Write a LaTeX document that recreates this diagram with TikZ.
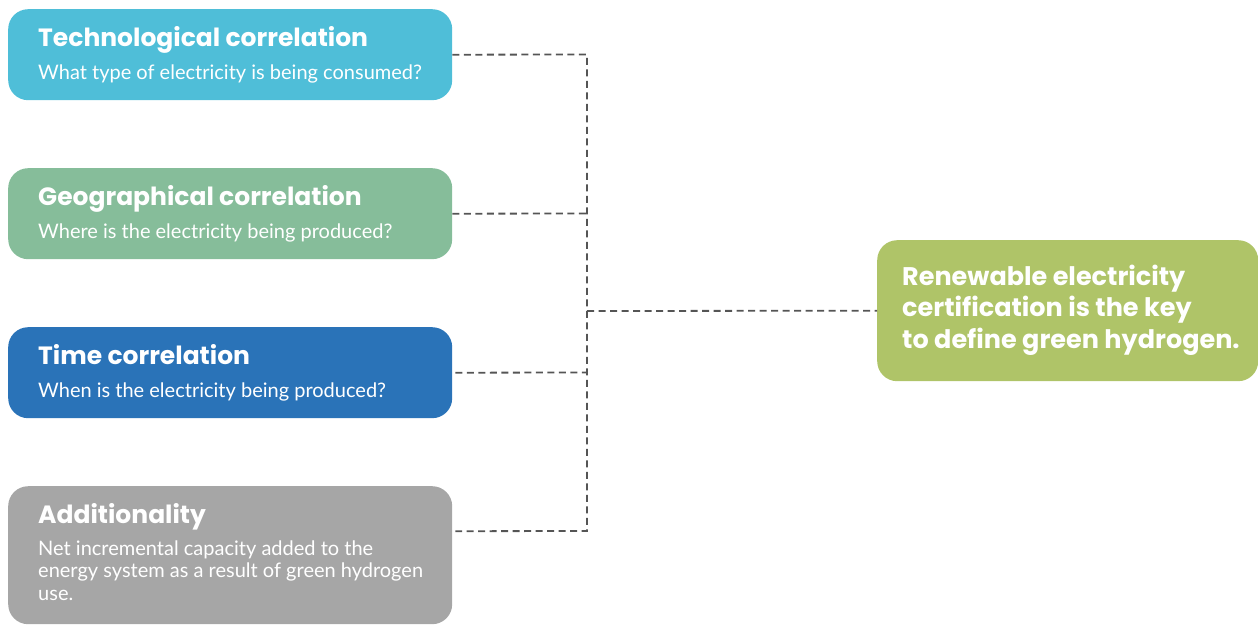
\documentclass[tikz,border=0pt]{standalone}
\usepackage{fontspec}
\setmainfont{Lato}
\newfontfamily\headfont{Poppins}
\definecolor{ctech}{HTML}{4FBED8}
\definecolor{cgeo}{HTML}{86BD9A}
\definecolor{ctime}{HTML}{2A73B8}
\definecolor{cadd}{HTML}{A6A6A6}
\definecolor{cres}{HTML}{AFC468}
\definecolor{cdash}{HTML}{555555}
\tikzset{
  box/.style={draw=none, rounded corners=20pt, inner sep=0pt, anchor=north west},
  ttl/.style={anchor=base west, inner sep=0pt, text=white, font=\headfont\fontsize{25}{28}\selectfont\bfseries},
  sub/.style={anchor=base west, inner sep=0pt, text=white, align=left, font=\fontsize{20}{22.5}\selectfont},
  big/.style={anchor=base west, inner sep=0pt, text=white, align=left, font=\headfont\fontsize{25.5}{31.5}\selectfont\bfseries},
  link/.style={draw=cdash, line width=1.8pt, dash pattern=on 7pt off 4.5pt},
}
\begin{document}
\begin{tikzpicture}[x=1pt,y=-1pt]
\useasboundingbox (0,0) rectangle (1258,626);
% boxes
\node[box, fill=ctech, minimum width=444pt, minimum height=91pt] (tech) at (8,9) {};
\node[box, fill=cgeo, minimum width=444pt, minimum height=91pt] (geo) at (8,168) {};
\node[box, fill=ctime, minimum width=444pt, minimum height=91pt] (time) at (8,327) {};
\node[box, fill=cadd, minimum width=444pt, minimum height=138pt] (add) at (8,486) {};
\node[box, fill=cres, minimum width=381pt, minimum height=141pt] (res) at (877,240) {};
% texts
\node[ttl] (techT) at (38,47) {Technological correlation};
\node[sub] (techS) at (38,79) {What type of electricity is being consumed?};
\node[ttl] (geoT) at (38,205) {Geographical correlation};
\node[sub] (geoS) at (38,238) {Where is the electricity being produced?};
\node[ttl] (timeT) at (38,364) {Time correlation};
\node[sub] (timeS) at (38,397) {When is the electricity being produced?};
\node[ttl] (addT) at (38,523) {Additionality};
\node[sub] (addS) at (38,600) {Net incremental capacity added to the\\energy system as a result of green hydrogen\\use.};
\node[big] (resT) at (902,348) {Renewable electricity\\certification is the key\\to define green hydrogen.};
% connectors
\coordinate (j1) at (587,54.5);
\coordinate (j4) at (587,531);
\coordinate (jm) at (587,311);
\draw[link] (tech.east) -- (j1) -- (j4) -- ([xshift=3pt,yshift=24pt]add.east);
\draw[link] (geo.east) -- (587,213.5);
\draw[link] ([xshift=3pt]time.east) -- (587,372.5);
\draw[link] (jm) -- (res.west);
\end{tikzpicture}
\end{document}
